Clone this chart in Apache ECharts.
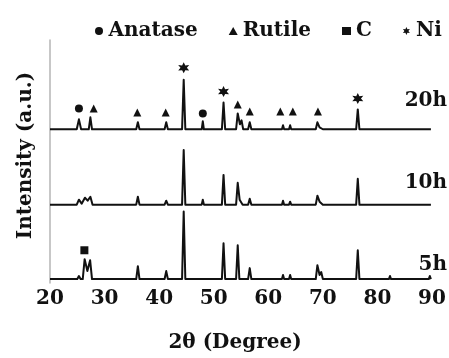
<!DOCTYPE html>
<html><head><meta charset="utf-8">
<script src="https://cdn.jsdelivr.net/npm/echarts@6/dist/echarts.min.js"></script>
<style>html,body{margin:0;padding:0;background:#fff}#c{width:449px;height:358px}</style>
</head><body><div id="c"></div>
<script>
// 2θ (degree) and intensity (a.u., stacked with vertical offsets as in the figure)
const theta5h = [20,25.0,25.3,25.6,26.0,26.35,26.85,27.35,27.7,35.8,36.1,36.4,37.6,37.8,38.0,38.9,39.1,39.3,41.0,41.3,41.6,44.2,44.5,44.8,47.8,48.0,48.2,51.5,51.8,52.1,54.1,54.4,54.7,56.3,56.6,56.9,62.5,62.7,62.9,63.8,64.0,64.2,68.7,69.0,69.4,69.7,70.0,76.1,76.4,76.7,82.1,82.3,82.5,84.0,84.2,84.4,89.4,89.6,89.8];
const int5h   = [4,4,7,4,4,24,12,23,4,4,17,4,4,6,4,4,6,4,4,12,4,4,72,4,4,6,4,4,40,4,4,38,4,4,15,4,4,8,4,4,8,4,4,18,8,11,4,4,33,4,4,7,4,4,6,4,4,7,4];

const theta10h = [20,24.9,25.3,25.8,26.4,26.9,27.4,27.8,35.8,36.1,36.4,37.7,37.9,38.1,39.0,39.2,39.4,41.0,41.3,41.6,44.2,44.5,44.8,47.8,48.0,48.2,51.5,51.8,52.1,54.1,54.4,54.75,55.0,55.3,56.3,56.6,56.9,62.5,62.7,62.9,63.8,64.0,64.2,68.7,69.0,69.4,69.7,70.0,76.1,76.4,76.7,82.1,82.3,82.5,89.4,89.6,89.8];
const int10h   = [79,79,84,80,86,83,87,79,79,87,79,79,81,79,79,81,79,79,83,79,79,134,79,79,84,79,79,109,79,79,101,84,86,79,79,85,79,79,83,79,79,82,79,79,88,82,83,79,79,105,79,79,81,79,79,81,79];

const theta20h = [20,24.9,25.3,25.7,27.1,27.4,27.7,35.8,36.1,36.4,37.7,37.9,38.1,39.0,39.2,39.4,41.0,41.3,41.6,44.2,44.5,44.8,47.8,48.0,48.2,51.5,51.8,52.1,54.1,54.4,54.8,55.1,55.4,56.3,56.6,56.9,62.5,62.7,62.9,63.8,64.0,64.2,68.7,69.0,69.4,69.7,70.0,75.1,75.3,75.5,76.1,76.4,76.7,82.1,82.3,82.5,89.4,89.6,89.8];
const int20h   = [155,155,165,155,155,167,155,155,162,155,155,157,155,155,157,155,155,162,155,155,205,155,155,163,155,155,182,155,155,171,160,164,155,155,162,155,155,159,155,155,159,155,155,162,157,158,155,155,157,155,155,175,155,155,157,155,155,157,155];

// phase markers
const anataseTheta = [25.3, 48.0];
const anataseInt   = [176, 171];
const rutileTheta  = [28.0, 36.0, 41.2, 54.4, 56.6, 62.2, 64.5, 69.1];
const rutileInt    = [176, 172, 172, 180, 173, 173, 173, 173];
const carbonTheta  = [26.3];
const carbonInt    = [33];
const niTheta      = [44.5, 51.8, 76.4];
const niInt        = [217, 193, 186];

const xTicks = [20, 30, 40, 50, 60, 70, 80, 90];
const sampleLabels = ['20h', '10h', '5h'];

const pair = (xs, ys) => xs.map((x, i) => [x, ys[i]]);
const FONT = 'DejaVu Serif';
const INK = '#111';
const starPath = 'path://M10,0 L12.5,5.67 L18.66,5 L15,10 L18.66,15 L12.5,14.33 L10,20 L7.5,14.33 L1.34,15 L5,10 L1.34,5 L7.5,5.67 Z';

const lineSeries = (name, xs, ys) => ({
  name, type: 'line', data: pair(xs, ys), showSymbol: false, symbol: 'none',
  lineStyle: { color: INK, width: 2, join: 'round' }, silent: true, z: 3
});
const markSeries = (name, xs, ys, symbol, size) => ({
  name, type: 'scatter', data: pair(xs, ys), symbol, symbolSize: size,
  itemStyle: { color: INK, opacity: 1 }, silent: true, z: 4
});

const chart = echarts.init(document.getElementById('c'));
chart.setOption({
  animation: false,
  backgroundColor: '#fff',
  grid: { left: 50, right: 17, top: 40, bottom: 73 },
  legend: {
    left: 90, top: 16, itemGap: 31, itemWidth: 9, itemHeight: 8,
    textStyle: { fontFamily: FONT, fontWeight: 'bold', fontSize: 20, color: INK },
    data: ['Anatase', 'Rutile', 'C', 'Ni'], selectedMode: false
  },
  xAxis: {
    type: 'value', min: xTicks[0], max: xTicks[xTicks.length - 1], interval: 10,
    axisLine: { show: false }, axisTick: { show: false }, splitLine: { show: false },
    axisLabel: { margin: 6, fontFamily: FONT, fontWeight: 'bold', fontSize: 20, color: INK },
    name: '2θ (Degree)', nameLocation: 'middle', nameGap: 50,
    nameTextStyle: { fontFamily: FONT, fontWeight: 'bold', fontSize: 20, color: INK, padding: [0, 12, 0, 0] }
  },
  yAxis: {
    type: 'value', min: 0, max: 245,
    axisLine: { show: true, lineStyle: { color: '#b5b5b5', width: 1.5 } },
    axisTick: { show: false }, axisLabel: { show: false }, splitLine: { show: false },
    name: 'Intensity (a.u.)', nameLocation: 'middle', nameGap: 14,
    nameTextStyle: { fontFamily: FONT, fontWeight: 'bold', fontSize: 20, color: INK, padding: [0, 0, 0, 12] }
  },
  graphic: [
    { type: 'text', style: { text: sampleLabels[0], x: 447, y: 101, align: 'right', verticalAlign: 'middle', font: 'bold 20px "DejaVu Serif"', fill: INK } },
    { type: 'text', style: { text: sampleLabels[1], x: 447, y: 183, align: 'right', verticalAlign: 'middle', font: 'bold 20px "DejaVu Serif"', fill: INK } },
    { type: 'text', style: { text: sampleLabels[2], x: 447, y: 265, align: 'right', verticalAlign: 'middle', font: 'bold 20px "DejaVu Serif"', fill: INK } }
  ],
  series: [
    lineSeries('5h', theta5h, int5h),
    lineSeries('10h', theta10h, int10h),
    lineSeries('20h', theta20h, int20h),
    markSeries('Anatase', anataseTheta, anataseInt, 'circle', 8),
    markSeries('Rutile', rutileTheta, rutileInt, 'triangle', 8),
    markSeries('C', carbonTheta, carbonInt, 'rect', 8),
    markSeries('Ni', niTheta, niInt, starPath, 11)
  ]
});
</script></body></html>
